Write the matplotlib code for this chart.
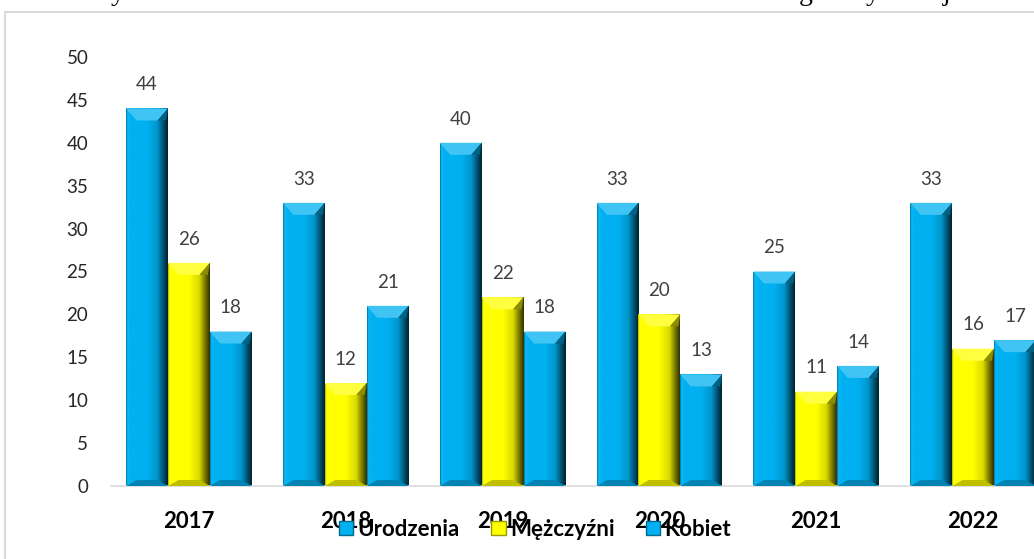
import matplotlib
matplotlib.use("Agg")
import matplotlib.pyplot as plt
import numpy as np
from matplotlib.patches import Patch, Polygon, Rectangle
from matplotlib.colors import to_rgb

plt.rcParams['font.family'] = ['Lato', 'DejaVu Sans']

years = ['2017', '2018', '2019', '2020', '2021', '2022']
series_names = ['Urodzenia', 'Mężczyźni', 'Kobiet']
urodzenia = [44, 33, 40, 33, 25, 33]
mezczyzni = [26, 12, 22, 20, 11, 16]
kobiet = [18, 21, 18, 13, 14, 17]
yticks = [0, 5, 10, 15, 20, 25, 30, 35, 40, 45, 50]

blue = '#00B0F0'
yellow = '#FFFF00'
colors = [blue, yellow, blue]


def shade(rgb, f):
    rgb = np.array(rgb)
    if f >= 1:
        return rgb + (1 - rgb) * (f - 1)
    return rgb * f


def bevel_bar(ax, rect, color):
    # fake the excel bevel: horizontal gradient + light top and dark bottom
    x0, w, h = rect.get_x(), rect.get_width(), rect.get_height()
    base = to_rgb(color)
    t = np.linspace(0, 1, 60)
    f = np.interp(t, [0, 0.03, 0.1, 0.5, 0.75, 0.9, 1.0],
                  [0.7, 1.08, 1.0, 1.0, 0.85, 0.45, 0.2])
    img = np.array([[shade(base, v) for v in f]])
    im = ax.imshow(img, extent=(x0, x0 + w, 0, h), aspect='auto',
                   zorder=2, interpolation='bilinear')
    im.set_clip_path(rect)
    bh = min(1.4, h / 2)
    ins = w * 0.25
    top = Polygon([(x0, h), (x0 + w, h), (x0 + w - ins, h - bh), (x0 + ins, h - bh)],
                  closed=True, facecolor=shade(base, 1.25), edgecolor='none', zorder=3)
    topr = Polygon([(x0 + w, h), (x0 + w - ins, h - bh), (x0 + w - ins * 0.2, h - bh)],
                   closed=True, facecolor=shade(base, 0.55), edgecolor='none', zorder=3)
    bot = Polygon([(x0, 0), (x0 + w, 0), (x0 + w - ins, bh * 0.5), (x0 + ins, bh * 0.5)],
                  closed=True, facecolor=shade(base, 0.75), edgecolor='none', zorder=3)
    for p in (top, topr, bot):
        ax.add_patch(p)


fig = plt.figure(figsize=(10.34, 5.59), dpi=100)
ax = fig.add_axes([110.5 / 1034, 73 / 559, 941 / 1034, 429 / 559])

x = np.arange(len(years))
bw = 0.267
for i, vals in enumerate([urodzenia, mezczyzni, kobiet]):
    bars = ax.bar(x + (i - 1) * bw, vals, bw, color=colors[i], zorder=1)
    for r in bars:
        bevel_bar(ax, r, colors[i])
    ax.bar_label(bars, padding=11, fontsize=13.5, color='#404040')

ax.set_xlim(-0.5, len(years) - 0.5)
ax.set_ylim(0, 50)
ax.set_yticks(yticks)
ax.set_xticks(x)
ax.set_xticklabels(years, fontsize=16, fontweight='bold', color='black')
ax.tick_params(axis='x', length=0, pad=18)
ax.tick_params(axis='y', length=0, pad=16, labelsize=13.5, labelcolor='#262626')
for s in ['top', 'right', 'left']:
    ax.spines[s].set_visible(False)
ax.spines['bottom'].set_color('#D9D9D9')
ax.spines['bottom'].set_linewidth(1.2)

handles = [Patch(facecolor=c, edgecolor=shade(to_rgb(c), 0.6)) for c in colors]
fig.legend(handles, series_names, loc='center', bbox_to_anchor=(535 / 1034, 1 - 529 / 559),
           ncol=3, frameon=False, handlelength=0.65, handleheight=0.6,
           handletextpad=0.2, columnspacing=1.4,
           prop={'size': 16, 'weight': 'bold'})

# chart frame (cut off at right and bottom)
fig.patches.append(Rectangle((5 / 1034, -0.1), 2, 1.1 - 12 / 559, fill=False,
                             edgecolor='#D9D9D9', lw=1.5, transform=fig.transFigure))

# descenders of the cut-off caption above the chart
for xp, ch in [(118, 'y'), (806, 'g'), (873, 'y'), (947, 'j')]:
    fig.text(xp / 1034, 1 + 0.5 / 559, ch, fontsize=20, family='Liberation Serif',
             ha='center', va='baseline')

fig.savefig('out.png', dpi=100)
